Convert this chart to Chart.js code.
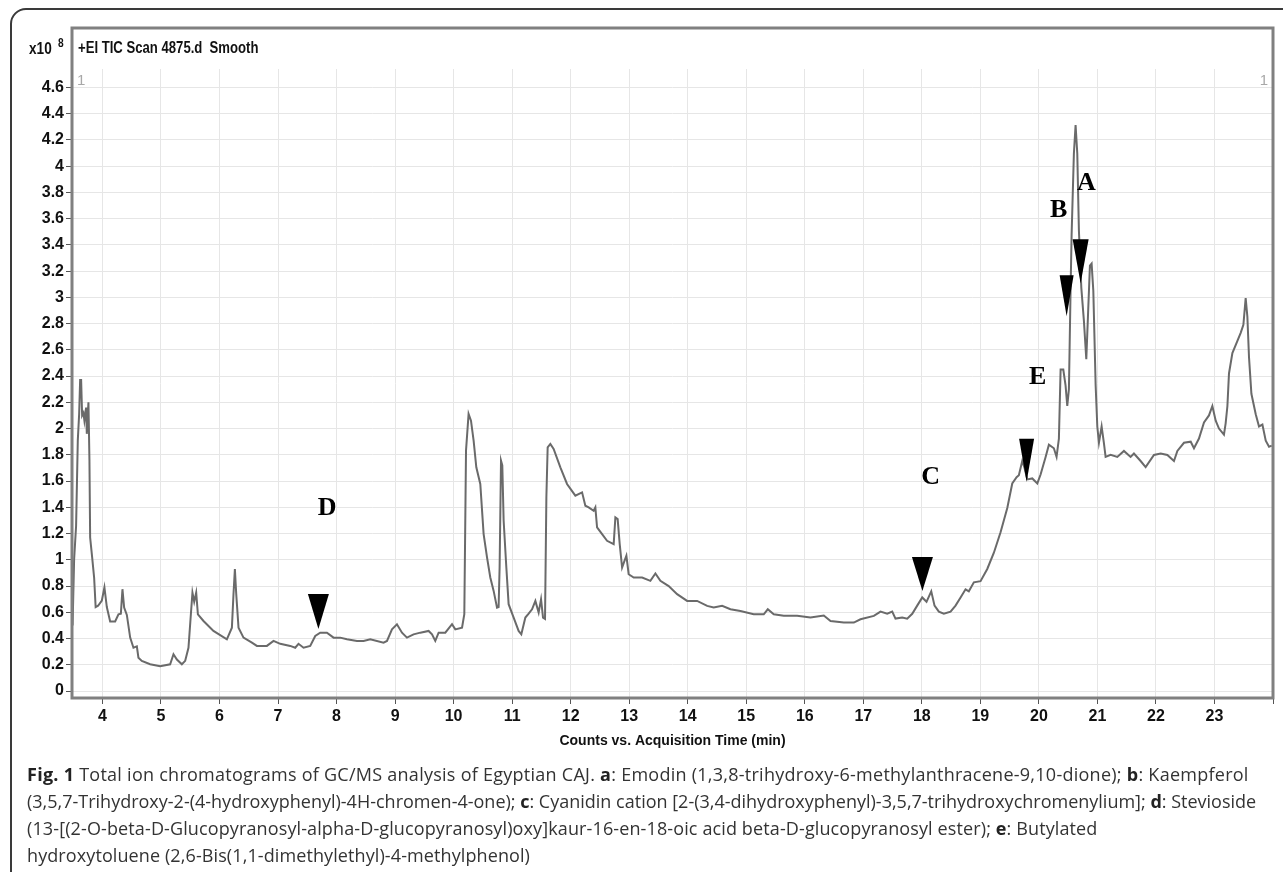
<!DOCTYPE html>
<html>
<head>
<meta charset="utf-8">
<title>TIC chromatogram</title>
<script src="https://cdn.jsdelivr.net/npm/chart.js@4.4.0/dist/chart.umd.min.js"></script>
<style>
html, body { margin: 0; padding: 0; background: #fff; }
#box { position: absolute; left: 10px; top: 8px; width: 1320px; height: 900px; border: 2px solid #3a3a3a; border-radius: 16px; }
#wrap { position: absolute; left: 0; top: 0; width: 1283px; height: 762px; }
#caption { position: absolute; left: 27px; top: 761px; font-family: 'Open Sans', sans-serif; font-size: 18px; line-height: 27px; color: #333; white-space: nowrap; }
#caption div { height: 27px; }
#caption b { color: #222; }
</style>
</head>
<body>
<div id="box"></div>
<div id="wrap"><canvas id="chart1"></canvas></div>
<div id="caption">
<div style="letter-spacing:0.26px"><b>Fig. 1</b> Total ion chromatograms of GC/MS analysis of Egyptian CAJ. <b>a</b>: Emodin (1,3,8-trihydroxy-6-methylanthracene-9,10-dione); <b>b</b>: Kaempferol</div>
<div style="letter-spacing:0px">(3,5,7-Trihydroxy-2-(4-hydroxyphenyl)-4H-chromen-4-one); <b>c</b>: Cyanidin cation [2-(3,4-dihydroxyphenyl)-3,5,7-trihydroxychromenylium]; <b>d</b>: Stevioside</div>
<div style="letter-spacing:0.12px">(13-[(2-O-beta-D-Glucopyranosyl-alpha-D-glucopyranosyl)oxy]kaur-16-en-18-oic acid beta-D-glucopyranosyl ester); <b>e</b>: Butylated</div>
<div style="letter-spacing:0.1px">hydroxytoluene (2,6-Bis(1,1-dimethylethyl)-4-methylphenol)</div>
</div>
<script>
// acquisition time (min) and counts (x10^8)
var times = [3.49, 3.516, 3.55, 3.579, 3.602, 3.619, 3.636, 3.653, 3.675, 3.692, 3.721, 3.733, 3.761, 3.778, 3.79, 3.824, 3.858, 3.884, 3.926, 3.99,
  4.034, 4.075, 4.132, 4.217, 4.274, 4.315, 4.342, 4.371, 4.417, 4.474, 4.53, 4.588, 4.615, 4.673, 4.815, 4.986, 5.157, 5.214, 5.272, 5.357,
  5.414, 5.47, 5.511, 5.538, 5.568, 5.602, 5.631, 5.727, 5.897, 6.126, 6.212, 6.239, 6.263, 6.286, 6.325, 6.41, 6.554, 6.639, 6.81, 6.923,
  7.038, 7.209, 7.294, 7.35, 7.436, 7.55, 7.636, 7.721, 7.836, 7.949, 8.063, 8.178, 8.349, 8.462, 8.576, 8.803, 8.862, 8.947, 9.032, 9.118,
  9.203, 9.316, 9.431, 9.573, 9.631, 9.687, 9.744, 9.858, 9.973, 10.029, 10.144, 10.183, 10.212, 10.256, 10.297, 10.342, 10.388, 10.456, 10.513, 10.571,
  10.627, 10.684, 10.742, 10.769, 10.786, 10.81, 10.832, 10.855, 10.901, 10.94, 11.026, 11.111, 11.157, 11.226, 11.282, 11.34, 11.397, 11.453, 11.494, 11.528,
  11.562, 11.585, 11.607, 11.653, 11.709, 11.824, 11.938, 12.08, 12.195, 12.251, 12.308, 12.393, 12.422, 12.451, 12.537, 12.622, 12.735, 12.764, 12.803, 12.838,
  12.879, 12.918, 12.952, 12.991, 13.077, 13.221, 13.362, 13.448, 13.533, 13.675, 13.819, 13.99, 14.161, 14.332, 14.444, 14.588, 14.73, 14.901, 15.128, 15.299,
  15.368, 15.47, 15.641, 15.87, 16.097, 16.325, 16.44, 16.667, 16.838, 16.952, 17.18, 17.294, 17.409, 17.494, 17.55, 17.665, 17.75, 17.836, 17.921, 18.007,
  18.08, 18.161, 18.217, 18.291, 18.376, 18.491, 18.576, 18.662, 18.747, 18.803, 18.889, 19.003, 19.118, 19.231, 19.345, 19.46, 19.545, 19.619, 19.658, 19.716,
  19.755, 19.802, 19.887, 19.973, 20.029, 20.115, 20.171, 20.256, 20.302, 20.342, 20.371, 20.417, 20.456, 20.485, 20.513, 20.542, 20.559, 20.598, 20.627, 20.656,
  20.684, 20.725, 20.769, 20.81, 20.838, 20.872, 20.901, 20.93, 20.97, 20.998, 21.026, 21.072, 21.111, 21.14, 21.226, 21.34, 21.453, 21.567, 21.624, 21.738,
  21.824, 21.966, 22.081, 22.195, 22.308, 22.366, 22.479, 22.594, 22.65, 22.735, 22.821, 22.906, 22.964, 23.021, 23.077, 23.162, 23.191, 23.221, 23.248, 23.306,
  23.392, 23.448, 23.494, 23.533, 23.562, 23.59, 23.631, 23.705, 23.761, 23.819, 23.876, 23.932, 23.978];
var counts = [0.50, 1.0, 1.26, 1.91, 2.11, 2.37, 2.37, 2.10, 2.12, 2.06, 2.16, 1.96, 2.20, 1.76, 1.17, 1.02, 0.865, 0.64, 0.65, 0.69,
  0.79, 0.64, 0.53, 0.53, 0.585, 0.59, 0.776, 0.636, 0.58, 0.407, 0.33, 0.34, 0.254, 0.229, 0.204, 0.19, 0.204, 0.28, 0.24, 0.204,
  0.23, 0.33, 0.585, 0.75, 0.68, 0.75, 0.585, 0.534, 0.458, 0.394, 0.483, 0.738, 0.929, 0.74, 0.483, 0.407, 0.369, 0.344, 0.344, 0.382,
  0.36, 0.344, 0.33, 0.36, 0.33, 0.344, 0.42, 0.445, 0.445, 0.407, 0.407, 0.394, 0.382, 0.382, 0.394, 0.369, 0.382, 0.471, 0.509, 0.445,
  0.407, 0.432, 0.445, 0.458, 0.432, 0.382, 0.445, 0.445, 0.509, 0.47, 0.483, 0.585, 1.832, 2.112, 2.06, 1.908, 1.705, 1.578, 1.196, 1.018,
  0.865, 0.763, 0.636, 0.64, 0.941, 1.756, 1.72, 1.298, 0.941, 0.662, 0.56, 0.458, 0.432, 0.56, 0.59, 0.623, 0.687, 0.598, 0.70, 0.56,
  0.55, 1.476, 1.857, 1.883, 1.845, 1.705, 1.578, 1.489, 1.514, 1.412, 1.40, 1.374, 1.40, 1.247, 1.196, 1.145, 1.12, 1.323, 1.31, 1.12,
  0.941, 0.99, 1.031, 0.89, 0.865, 0.865, 0.84, 0.896, 0.84, 0.80, 0.738, 0.687, 0.687, 0.649, 0.636, 0.649, 0.623, 0.61, 0.585, 0.585,
  0.623, 0.585, 0.573, 0.573, 0.56, 0.575, 0.534, 0.522, 0.522, 0.547, 0.573, 0.605, 0.59, 0.605, 0.552, 0.56, 0.552, 0.589, 0.651, 0.713,
  0.68, 0.76, 0.651, 0.605, 0.589, 0.605, 0.651, 0.713, 0.775, 0.76, 0.828, 0.837, 0.93, 1.054, 1.21, 1.395, 1.582, 1.63, 1.644, 1.753,
  1.70, 1.613, 1.62, 1.582, 1.65, 1.784, 1.877, 1.85, 1.784, 1.924, 2.45, 2.45, 2.327, 2.172, 2.30, 3.072, 3.475, 4.096, 4.313, 4.096,
  3.506, 3.072, 2.823, 2.528, 2.85, 3.242, 3.257, 3.05, 2.327, 2.016, 1.892, 2.016, 1.89, 1.784, 1.80, 1.784, 1.83, 1.784, 1.81, 1.753,
  1.706, 1.799, 1.81, 1.799, 1.753, 1.83, 1.892, 1.90, 1.85, 1.924, 2.047, 2.10, 2.172, 2.06, 2.0, 1.954, 2.04, 2.172, 2.42, 2.575,
  2.668, 2.73, 2.79, 2.994, 2.854, 2.544, 2.265, 2.109, 2.016, 2.03, 1.908, 1.861, 1.87];

// tick labels
var xTicks = [4, 5, 6, 7, 8, 9, 10, 11, 12, 13, 14, 15, 16, 17, 18, 19, 20, 21, 22, 23];
var yTicks = [0, 0.2, 0.4, 0.6, 0.8, 1, 1.2, 1.4, 1.6, 1.8, 2, 2.2, 2.4, 2.6, 2.8, 3, 3.2, 3.4, 3.6, 3.8, 4, 4.2, 4.4, 4.6];

// peak letters and marker arrows (time, counts)
var peakLabels = ['D', 'C', 'E', 'B', 'A'];
var peakLabelTimes = [7.84, 18.15, 19.98, 20.34, 20.81];
var peakLabelCounts = [1.39, 1.63, 2.39, 3.66, 3.87];
var arrowTimes = [7.69, 18.01, 19.79, 20.474, 20.713];
var arrowCounts = [0.473, 0.763, 1.595, 2.855, 3.107];

var arrowSizes = [[21, 35], [21, 34], [15, 43], [14, 41], [16, 44]];
var axisFont = "'Liberation Sans', Arial, sans-serif";

var points = [];
for (var i = 0; i < times.length; i++) {
    points.push({ x: times[i], y: counts[i] });
}

// squeezed text, the instrument software uses a condensed face
function narrowText(ctx, text, x, y, squeeze) {
    ctx.save();
    ctx.translate(x, y);
    ctx.scale(squeeze, 1);
    ctx.fillText(text, 0, 0);
    ctx.restore();
}

var overlayPlugin = {
    id: 'overlay',
    afterDatasetsDraw: function (chart) {
        var ctx = chart.ctx;
        var area = chart.chartArea;
        var xs = chart.scales.x;
        var ys = chart.scales.y;
        ctx.save();

        // arrows
        ctx.fillStyle = '#000';
        for (var i = 0; i < arrowTimes.length; i++) {
            var px = xs.getPixelForValue(arrowTimes[i]);
            var py = ys.getPixelForValue(arrowCounts[i]);
            var w = arrowSizes[i][0], h = arrowSizes[i][1];
            ctx.beginPath();
            ctx.moveTo(px - w / 2, py - h);
            ctx.lineTo(px + w / 2, py - h);
            ctx.lineTo(px, py);
            ctx.closePath();
            ctx.fill();
        }

        // letters
        ctx.font = "bold 26px 'Liberation Serif', 'Times New Roman', serif";
        ctx.textAlign = 'center';
        ctx.textBaseline = 'middle';
        for (var j = 0; j < peakLabels.length; j++) {
            ctx.fillText(peakLabels[j], xs.getPixelForValue(peakLabelTimes[j]), ys.getPixelForValue(peakLabelCounts[j]));
        }

        // frame
        ctx.strokeStyle = '#808080';
        ctx.lineWidth = 3;
        ctx.strokeRect(area.left, 28, area.right - area.left, area.bottom - 28);

        // header text
        ctx.fillStyle = '#111';
        ctx.textAlign = 'left';
        ctx.font = 'bold 16px ' + axisFont;
        narrowText(ctx, '+EI TIC Scan 4875.d  Smooth', area.left + 6, 49, 0.82);
        narrowText(ctx, 'x10', 29, 50, 0.85);
        ctx.font = 'bold 12px ' + axisFont;
        narrowText(ctx, '8', 58, 44, 0.85);

        // panel number
        ctx.fillStyle = '#a8a8a8';
        ctx.font = '15px ' + axisFont;
        ctx.fillText('1', area.left + 5, area.top + 12);
        ctx.textAlign = 'right';
        ctx.fillText('1', area.right - 5, area.top + 12);
        ctx.restore();
    }
};

var ctx = document.getElementById('chart1').getContext('2d');
var myChart1 = new Chart(ctx, {
    type: 'line',
    data: {
        datasets: [{
            data: points,
            borderColor: '#6a6a6a',
            borderWidth: 2,
            pointRadius: 0,
            tension: 0,
            fill: false
        }]
    },
    options: {
        responsive: true,
        maintainAspectRatio: false,
        animation: false,
        events: [],
        layout: {
            padding: { top: 69, right: 10, left: 0, bottom: 0 }
        },
        plugins: {
            legend: { display: false },
            tooltip: { enabled: false }
        },
        scales: {
            x: {
                type: 'linear',
                min: 3.48,
                max: 24,
                afterBuildTicks: function (scale) {
                    var t = xTicks.map(function (v) { return { value: v }; });
                    t.push({ value: 24 });
                    scale.ticks = t;
                },
                afterFit: function (scale) {
                    scale.height = 64;
                },
                ticks: {
                    autoSkip: false,
                    maxRotation: 0,
                    padding: 3,
                    color: '#111',
                    font: { family: axisFont, size: 16, weight: 'bold' },
                    callback: function (value) {
                        return value === 24 ? '' : value;
                    }
                },
                grid: {
                    color: '#e6e6e6',
                    lineWidth: 1,
                    tickColor: '#555',
                    tickLength: 6
                },
                border: { display: false },
                title: {
                    display: true,
                    text: 'Counts vs. Acquisition Time (min)',
                    color: '#111',
                    font: { family: axisFont, size: 14, weight: 'bold' },
                    padding: { top: 0, bottom: 12 }
                }
            },
            y: {
                min: -0.053,
                max: 4.74,
                afterBuildTicks: function (scale) {
                    scale.ticks = yTicks.map(function (v) { return { value: v }; });
                },
                afterFit: function (scale) {
                    scale.width = 72;
                },
                ticks: {
                    padding: 2,
                    color: '#111',
                    font: { family: axisFont, size: 16, weight: 'bold' },
                    callback: function (value) {
                        return String(Number(value.toFixed(1)));
                    }
                },
                grid: {
                    color: '#e6e6e6',
                    lineWidth: 1,
                    tickColor: '#555',
                    tickLength: 6
                },
                border: { display: false }
            }
        }
    },
    plugins: [overlayPlugin]
});
</script>
</body>
</html>
